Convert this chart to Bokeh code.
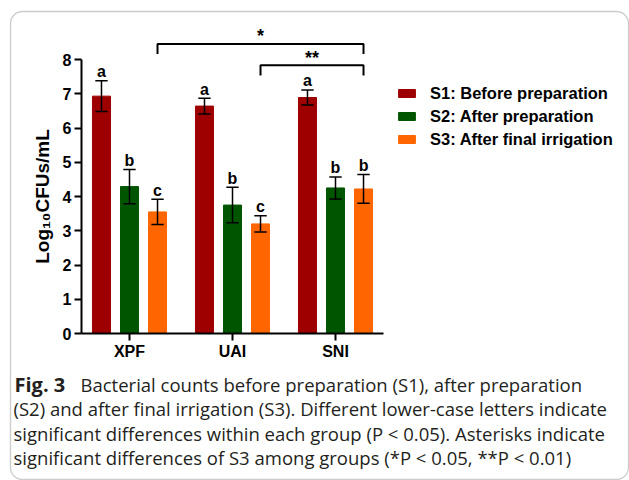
from bokeh.plotting import figure
from bokeh.models import (ColumnDataSource, Range1d, FixedTicker, Legend, LegendItem,
                          BoxAnnotation, Label)
from bokeh.core.properties import value
from bokeh.embed import file_html
from bokeh.resources import INLINE

groups = ["XPF", "UAI", "SNI"]
series = ["S1: Before preparation", "S2: After preparation", "S3: After final irrigation"]
s1_mean = [6.93, 6.64, 6.89]
s1_err = [0.45, 0.23, 0.22]
s2_mean = [4.29, 3.75, 4.25]
s2_err = [0.50, 0.52, 0.32]
s3_mean = [3.55, 3.20, 4.22]
s3_err = [0.37, 0.24, 0.42]
s1_letters = ["a", "a", "a"]
s2_letters = ["b", "b", "b"]
s3_letters = ["c", "c", "b"]
y_ticks = [0, 1, 2, 3, 4, 5, 6, 7, 8]
sig_marks = ["*", "**"]
caption_head = "Fig. 3"
caption_lines = [
    "Bacterial counts before preparation (S1), after preparation",
    "(S2) and after final irrigation (S3). Different lower-case letters indicate",
    "significant differences within each group (P < 0.05). Asterisks indicate",
    "significant differences of S3 among groups (*P < 0.05, **P < 0.01)",
]
colors = ["#9e0000", "#005600", "#ff6600"]

FONT = "Liberation Sans"
CAP_FONT = "Open Sans"

W, H = 629, 480
# pixel geometry of the chart inside the canvas
Y0_PX, PX_PER_Y = 333.0, 34.25          # y=0 line and pixels per log unit
XC_PX, PX_PER_X = 129.0, 103.0          # first group centre and group spacing
y_start = -(H - Y0_PX) / PX_PER_Y
y_end = Y0_PX / PX_PER_Y
x_start = 0.5 - XC_PX / PX_PER_X
x_end = 0.5 + (W - XC_PX) / PX_PER_X
ax_left = 0.5 - (XC_PX - 81) / PX_PER_X
ax_right = 0.5 + (383 - XC_PX) / PX_PER_X

p = figure(width=W, height=H, output_backend="svg", toolbar_location=None, title=None,
           x_range=Range1d(x_start, x_end), y_range=Range1d(y_start, y_end),
           min_border=0, min_border_left=0, min_border_right=0,
           min_border_top=0, min_border_bottom=0)
p.outline_line_color = None
p.grid.visible = False
p.background_fill_color = "white"
p.border_fill_color = "white"

# axes
p.yaxis.fixed_location = ax_left
p.xaxis.fixed_location = 0
p.yaxis.bounds = (0, 8)
p.xaxis.bounds = (ax_left, ax_right)
p.yaxis.ticker = FixedTicker(ticks=y_ticks)
p.xaxis.ticker = FixedTicker(ticks=[i + 0.5 for i in range(len(groups))])
p.xaxis.major_label_overrides = {i + 0.5: g for i, g in enumerate(groups)}
for ax in (p.xaxis, p.yaxis):
    ax.axis_line_width = 2
    ax.axis_line_color = "black"
    ax.major_tick_line_width = 2
    ax.major_tick_line_color = "black"
    ax.major_tick_out = 7
    ax.major_tick_in = 0
    ax.minor_tick_line_color = None
    ax.major_label_text_font = FONT
    ax.major_label_text_font_style = "bold"
    ax.major_label_text_font_size = "16px"
    ax.major_label_text_color = "black"
p.yaxis.major_label_standoff = 3
p.xaxis.major_label_standoff = 2
p.yaxis.axis_label = "Log\u2081\u2080CFUs/mL"
p.yaxis.axis_label_text_font = FONT
p.yaxis.axis_label_text_font_style = "bold"
p.yaxis.axis_label_text_font_size = "19px"
p.yaxis.axis_label_text_color = "black"
p.yaxis.axis_label_standoff = 7

offsets = [-0.272, 0.0, 0.272]
bar_w = 0.175
cap_w = 0.12
letter_gap = 9 / PX_PER_Y
means = [s1_mean, s2_mean, s3_mean]
errs = [s1_err, s2_err, s3_err]
letters = [s1_letters, s2_letters, s3_letters]
xs_all = []
items = []
for k in range(3):
    xs = [i + 0.5 + offsets[k] for i in range(len(groups))]
    xs_all.append(xs)
    up = [m + e for m, e in zip(means[k], errs[k])]
    lo = [m - e for m, e in zip(means[k], errs[k])]
    src = ColumnDataSource(dict(x=xs, top=means[k], upper=up, lower=lo, lab=letters[k],
                                ylab=[u + letter_gap for u in up],
                                xl=[x - cap_w / 2 for x in xs], xr=[x + cap_w / 2 for x in xs]))
    r = p.vbar(x="x", top="top", bottom=0, width=bar_w, source=src,
               fill_color=colors[k], line_color=colors[k], line_width=1)
    items.append(LegendItem(label=series[k], renderers=[r]))
    p.segment(x0="x", y0="lower", x1="x", y1="upper", source=src, line_color="black", line_width=1.5)
    p.segment(x0="xl", y0="upper", x1="xr", y1="upper", source=src, line_color="black", line_width=1.5)
    p.segment(x0="xl", y0="lower", x1="xr", y1="lower", source=src, line_color="black", line_width=1.5)
    p.text(x="x", y="ylab", text="lab", source=src, text_align="center",
           text_baseline="alphabetic", text_font=value(FONT),
           text_font_style="bold", text_font_size="16px", text_color="black")

# significance brackets among S3
s3x = xs_all[2]
brackets = [(s3x[0], s3x[2], 8.45, 8.16, 8.70), (s3x[1], s3x[2], 7.83, 7.53, 8.03)]
for (xa, xb, yt, yb, ym), mark in zip(brackets, sig_marks):
    p.line([xa, xa, xb, xb], [yb, yt, yt, yb], line_color="black", line_width=2)
    p.text(x=[(xa + xb) / 2], y=[ym], text=[mark], text_align="center",
           text_baseline="middle", text_font=value(FONT),
           text_font_style="bold", text_font_size="18px", text_color="black")

legend = Legend(items=items, location=(396, 330), orientation="vertical",
                glyph_width=21, glyph_height=10, label_standoff=13, spacing=1,
                label_height=22, padding=0, margin=0, border_line_color=None,
                background_fill_alpha=0, label_text_font=FONT,
                label_text_font_style="bold", label_text_font_size="16.5px",
                label_text_color="black")
p.add_layout(legend)

# caption (screen units measured from the bottom-left corner)
cap_y = [96, 71.7, 47.4, 23.1]
p.add_layout(Label(x=14, y=cap_y[0], x_units="screen", y_units="screen", text=caption_head,
                   text_font=CAP_FONT, text_font_style="bold", text_font_size="20px",
                   text_color="#231f20", text_baseline="alphabetic"))
for i, line in enumerate(caption_lines):
    xx = 80 if i == 0 else 13
    p.add_layout(Label(x=xx, y=cap_y[i], x_units="screen", y_units="screen", text=line,
                       text_font=CAP_FONT, text_font_size="18.5px", text_color="#231f20",
                       text_baseline="alphabetic"))

# rounded frame around the figure panel
p.add_layout(BoxAnnotation(left=10, right=628, top=469, bottom=1,
                           left_units="screen", right_units="screen",
                           top_units="screen", bottom_units="screen",
                           fill_alpha=0, line_color="#555555", line_width=1.3,
                           border_radius=12))

open("out.html", "w").write(file_html(p, INLINE))
